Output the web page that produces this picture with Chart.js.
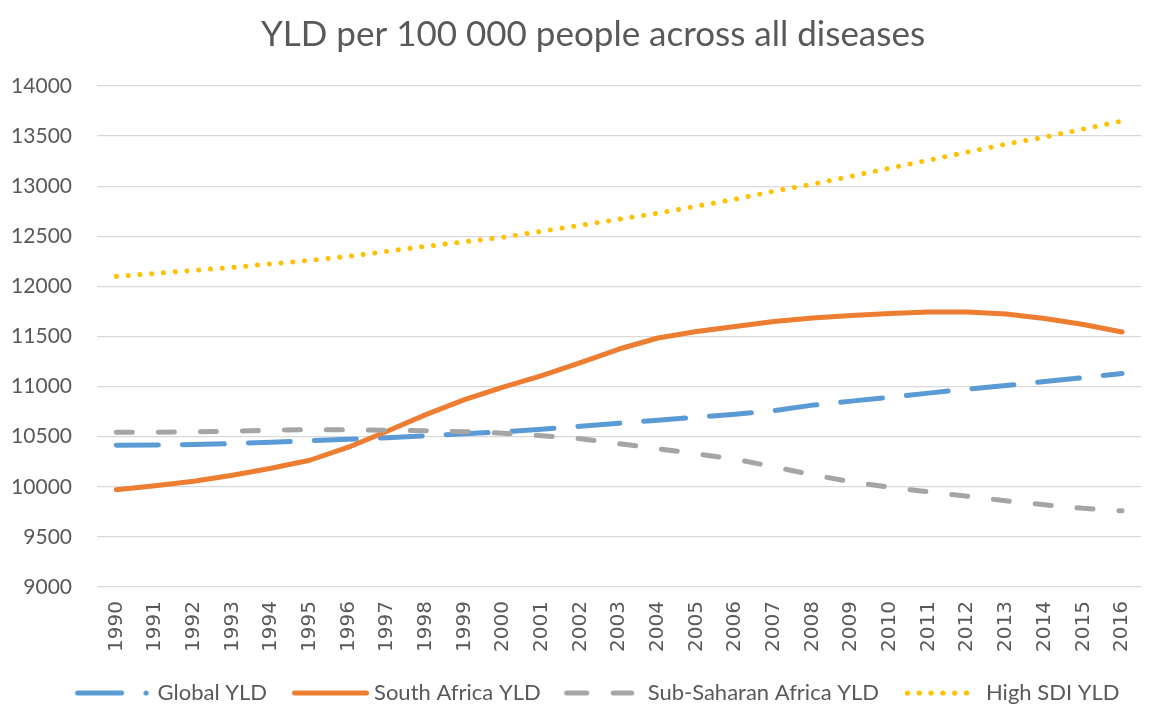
<!DOCTYPE html>
<html><head><meta charset="utf-8">
<script src="https://cdn.jsdelivr.net/npm/chart.js@4/dist/chart.umd.min.js"></script>
<style>html,body{margin:0;padding:0;background:#fff}#wrap{width:1160px;height:704px}</style>
</head><body><div id="wrap"><canvas id="c" width="1160" height="704"></canvas></div>
<script>
const years = ['1990','1991','1992','1993','1994','1995','1996','1997','1998','1999','2000','2001','2002','2003','2004','2005','2006','2007','2008','2009','2010','2011','2012','2013','2014','2015','2016'];
const globalYLD = [10415,10418,10422,10432,10445,10460,10475,10490,10510,10530,10548,10575,10605,10635,10665,10695,10725,10760,10815,10855,10895,10935,10975,11010,11050,11090,11130];
const southAfricaYLD = [9970,10010,10055,10115,10185,10265,10395,10555,10720,10870,10995,11110,11240,11375,11485,11550,11600,11650,11685,11710,11730,11745,11745,11725,11680,11620,11545];
const subSaharanYLD = [10545,10545,10548,10555,10565,10570,10570,10565,10560,10550,10535,10510,10480,10430,10380,10330,10275,10200,10120,10050,9995,9950,9905,9860,9820,9785,9760];
const highSDIYLD = [12100,12130,12160,12190,12225,12260,12300,12350,12400,12445,12490,12550,12610,12670,12730,12800,12870,12950,13020,13100,13180,13260,13340,13420,13490,13570,13650];
const seriesNames = ['Global YLD','South Africa YLD','Sub-Saharan Africa YLD','High SDI YLD'];
const yMin = 9000, yMax = 14000, yStep = 500;

const TXT = '#595959';
const COLORS = ['#5B9BD5','#ED7D31','#A5A5A5','#FFC000'];

function sample(kind){
  const c = document.createElement('canvas');
  c.width = 100; c.height = 12;
  const g = c.getContext('2d');
  g.lineCap = 'round'; g.lineWidth = 5; g.strokeStyle = COLORS[kind]; g.fillStyle = COLORS[kind];
  const y = 6;
  const seg = (a,b)=>{g.beginPath();g.moveTo(a,y);g.lineTo(b,y);g.stroke();};
  const dot = (x)=>{g.beginPath();g.arc(x,y,2.6,0,Math.PI*2);g.fill();};
  if(kind===0){ seg(21,65); dot(89.5); }
  else if(kind===1){ seg(21.5,93.5); }
  else if(kind===2){ seg(20,40); seg(66.5,85); }
  else { for(let i=0;i<6;i++) dot(22.5+i*11.8); }
  return c;
}
const samples = [0,1,2,3].map(sample);

const ds = (i, data, dash, order) => ({
  label: seriesNames[i], data, borderColor: COLORS[i], backgroundColor: COLORS[i],
  borderWidth: 5, borderDash: dash, borderCapStyle: 'round', borderJoinStyle: 'round',
  pointRadius: 0, pointHoverRadius: 0, tension: 0, fill: false, order
});

const boxShift = {
  id: 'boxShift',
  afterLayout(chart){
    const l = chart.legend;
    if (l) { l.left += 13; l.right += 13; }
    const t = chart.titleBlock;
    if (t) { t.left += 13; t.right += 13; }
  }
};

new Chart(document.getElementById('c'), {
  type: 'line',
  data: {
    labels: years,
    datasets: [
      ds(0, globalYLD, [42,24], 4),
      ds(1, southAfricaYLD, [], 3),
      ds(2, subSaharanYLD, [16,26], 2),
      ds(3, highSDIYLD, [0.001,11.8], 1)
    ]
  },
  plugins: [boxShift],
  options: {
    responsive: false, animation: false, devicePixelRatio: 1,
    layout: { padding: { left: 0, right: 0, top: 0, bottom: -10 } },
    plugins: {
      tooltip: { enabled: false },
      title: {
        display: true, text: 'YLD per 100 000 people across all diseases',
        color: TXT, font: { family: 'Lato', size: 35, weight: 'normal' },
        padding: { top: 14, bottom: 30 }
      },
      legend: {
        position: 'bottom',
        labels: {
          usePointStyle: true, pointStyleWidth: 80, padding: 16,
          color: TXT, font: { family: 'Lato', size: 22 },
          generateLabels: (chart) => chart.data.datasets.map((d, i) => ({
            text: d.label, fillStyle: COLORS[i], strokeStyle: COLORS[i], lineWidth: 0,
            pointStyle: samples[i], datasetIndex: i, hidden: false, fontColor: TXT
          }))
        }
      }
    },
    scales: {
      x: {
        offset: true,
        grid: { display: false, drawTicks: false },
        border: { display: false },
        ticks: { autoSkip: false, maxRotation: 90, minRotation: 90, padding: 14,
          color: TXT, font: { family: 'DejaVu Sans', size: 20 } },
        afterFit: (s) => { s.height = 79; }
      },
      y: {
        min: yMin, max: yMax,
        grid: { color: '#D9D9D9', lineWidth: 1.3, drawTicks: false },
        border: { display: false },
        ticks: { stepSize: yStep, padding: 25, color: TXT,
          font: { family: 'Lato', size: 21 },
          callback: (v) => String(v) },
        afterFit: (s) => { s.width = 97; }
      }
    }
  }
});
</script>
</body></html>
